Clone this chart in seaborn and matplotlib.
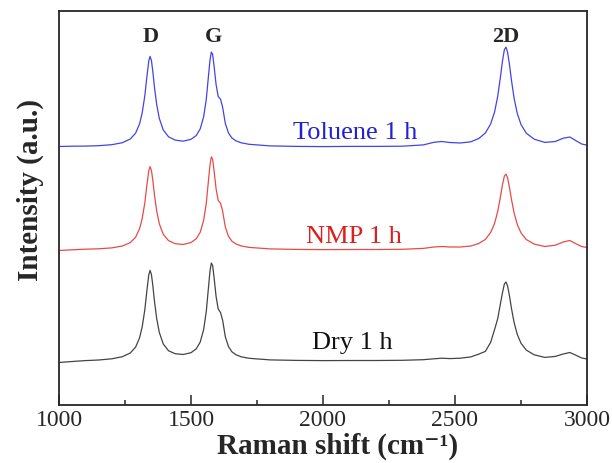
import numpy as np
import pandas as pd
import seaborn as sns
import matplotlib.pyplot as plt
from matplotlib.ticker import MultipleLocator

shift = [1000, 1050, 1100, 1150, 1200, 1240, 1270, 1290, 1305, 1315,
         1325, 1333, 1340, 1345, 1350, 1355, 1362, 1370, 1380, 1395,
         1415, 1440, 1470, 1500, 1520, 1535, 1548, 1558, 1566, 1572,
         1577, 1582, 1588, 1595, 1603, 1612, 1620, 1630, 1642, 1655,
         1670, 1690, 1720, 1800, 1900, 2000, 2100, 2200, 2300, 2380,
         2420, 2450, 2480, 2520, 2560, 2590, 2615, 2635, 2650, 2662,
         2672, 2680, 2687, 2693, 2699, 2706, 2714, 2724, 2736, 2750,
         2770, 2800, 2840, 2880, 2910, 2935, 2960, 2980, 3000]

toluene = [0.5, 0.8, 0.9, 1.3, 2.3, 4.3, 8.0, 13.8, 23.0, 34.0,
           51.0, 70.5, 86.1, 90.6, 86.6, 76.5, 59.0, 42.5, 28.5, 17.0,
           10.2, 6.9, 5.8, 7.7, 11.5, 18.2, 30.4, 48.0, 70.5, 87.0,
           95.0, 92.5, 79.5, 62.5, 50.5, 47.8, 39.5, 23.5, 14.0, 9.0,
           6.2, 4.2, 2.7, 1.1, 0.6, 0.4, 0.6, 0.6, 0.8, 2.1,
           4.7, 5.5, 4.5, 4.0, 5.2, 8.5, 14.0, 23.0, 35.0, 51.0,
           69.8, 86.2, 97.3, 99.9, 95.0, 83.0, 66.5, 48.5, 33.5, 22.5,
           13.8, 7.8, 4.6, 5.5, 8.8, 10.0, 6.0, 3.0, 1.8]

nmp = [-0.5, 0.2, 0.8, 1.2, 2.1, 4.0, 7.4, 12.7, 21.2, 31.3,
       47.0, 65.0, 79.2, 83.4, 79.7, 70.4, 54.3, 39.1, 26.2, 15.6,
       9.4, 6.3, 5.5, 7.5, 11.3, 17.8, 29.8, 47.0, 69.1, 85.3,
       93.1, 90.7, 77.9, 61.2, 49.5, 46.8, 38.7, 23.0, 13.7, 8.8,
       6.1, 4.1, 2.6, 1.1, 0.6, 0.4, 0.5, 0.5, 0.7, 1.6,
       3.0, 3.5, 3.0, 3.0, 4.0, 6.5, 10.6, 17.5, 26.6, 38.8,
       53.0, 65.5, 73.9, 75.9, 72.2, 63.1, 50.5, 36.9, 25.5, 17.1,
       10.5, 5.9, 3.5, 4.8, 8.0, 9.5, 6.0, 3.5, 2.5]

dry = [-1.5, -0.5, 0.4, 1.0, 2.2, 4.3, 8.0, 13.8, 23.0, 34.0,
       51.0, 70.5, 86.1, 90.6, 86.6, 76.5, 59.0, 42.5, 28.5, 17.0,
       10.2, 7.3, 6.5, 8.3, 12.2, 19.0, 31.6, 49.8, 73.0, 90.0,
       98.0, 95.5, 82.0, 64.5, 52.0, 48.4, 40.5, 24.2, 14.4, 9.2,
       6.3, 4.2, 2.7, 1.1, 0.6, 0.4, 0.5, 0.5, 0.7, 1.3,
       2.2, 2.8, 2.4, 2.8, 4.1, 6.9, 9.6, 18.6, 31.5, 42.5,
       57.2, 68.5, 77.0, 79.0, 75.2, 65.6, 52.5, 38.3, 26.5, 17.8,
       10.9, 6.2, 3.6, 4.6, 7.0, 8.5, 5.5, 3.0, 2.0]

samples = ["Toluene 1 h", "NMP 1 h", "Dry 1 h"]
offsets = [258, 155, 44]
line_colors = ["#4343e8", "#e84a4a", "#444444"]
text_colors = ["#2222cc", "#dd1f1f", "#111111"]
label_pos = [(2121, 266), (2116, 162), (2110, 56)]

peaks = ["D", "G", "2D"]
peak_pos = [1347, 1585, 2693]

# --- Tableau long pour seaborn ---
frames = []
for name, vals, off in zip(samples, [toluene, nmp, dry], offsets):
    frames.append(pd.DataFrame({"shift": shift,
                                "intensity": np.array(vals) + off,
                                "sample": name}))
df = pd.concat(frames, ignore_index=True)

sns.set_style("ticks")
plt.rcParams["font.family"] = ["Liberation Serif", "DejaVu Serif"]

fig = plt.figure(figsize=(6.12, 4.63), dpi=100)
ax = fig.add_axes([59 / 612, 58 / 463, 528 / 612, 394 / 463])

sns.lineplot(data=df, x="shift", y="intensity", hue="sample",
             palette=dict(zip(samples, line_colors)), linewidth=0.9,
             legend=False, ax=ax)

for name, col, (tx, ty) in zip(samples, text_colors, label_pos):
    ax.text(tx, ty, name, color=col, fontsize=19, ha="center", va="baseline")

for p, xp in zip(peaks, peak_pos):
    ax.text(xp, 363, p, fontsize=16, fontweight="bold", ha="center", va="baseline")

ax.set_xlim(1000, 3000)
ax.set_ylim(0, 394)
ax.xaxis.set_major_locator(MultipleLocator(500))
ax.xaxis.set_minor_locator(MultipleLocator(250))
ax.tick_params(axis="x", which="major", direction="in", length=7, width=1.1,
               labelsize=17, pad=3.5, top=False)
ax.tick_params(axis="x", which="minor", direction="in", length=3.5, width=1.1, top=False)
ax.set_yticks([])
for s in ax.spines.values():
    s.set_linewidth(1.3)
    s.set_visible(True)

ax.set_xlabel("Raman shift (cm⁻¹)", fontsize=21, fontweight="bold")
ax.xaxis.set_label_coords(0.528, -0.07)
ax.set_ylabel("Intensity (a.u.)", fontsize=21, fontweight="bold")
ax.yaxis.set_label_coords(-0.028, 0.546)

plt.savefig("out.png", dpi=100)
plt.close()
